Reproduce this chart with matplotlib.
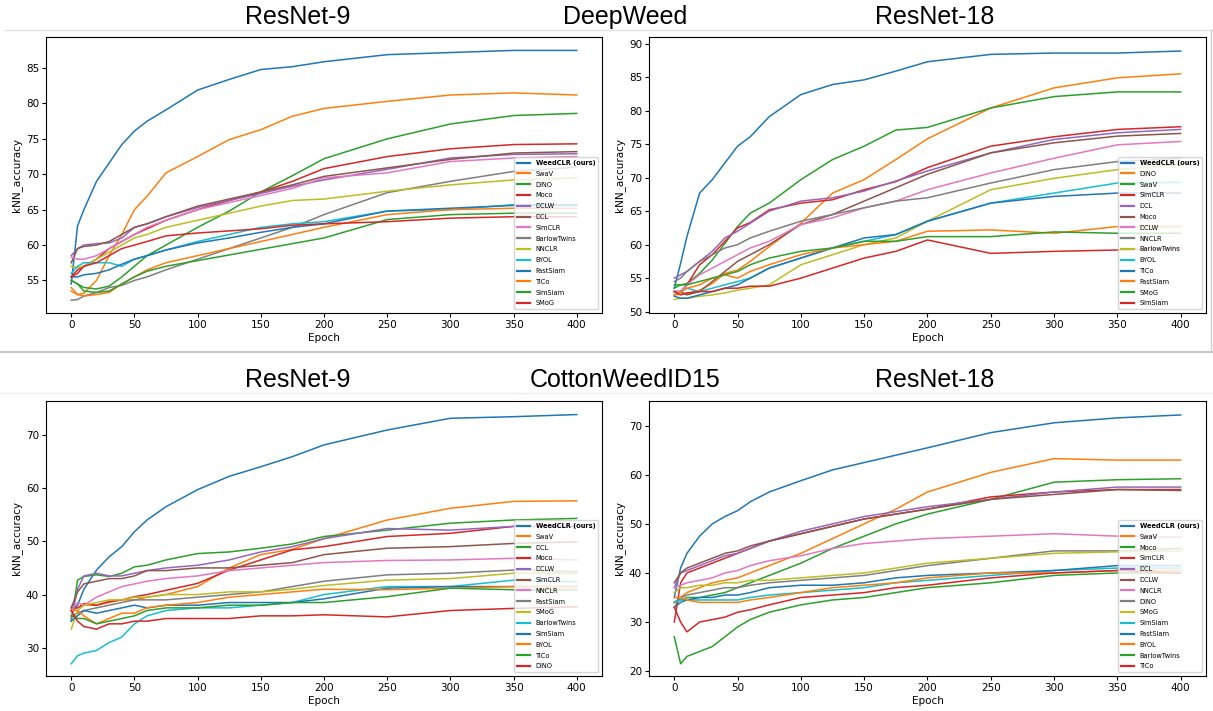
import matplotlib
matplotlib.use('Agg')
import matplotlib.pyplot as plt
from matplotlib.lines import Line2D

epochs = [0, 5, 10, 20, 30, 40, 50, 60, 75, 100, 125, 150, 175, 200, 250, 300, 350, 400]

# DeepWeed, ResNet-9
dw_r9_names = ['WeedCLR (ours)', 'SwaV', 'DINO', 'Moco', 'DCLW', 'DCL', 'SimCLR',
               'BarlowTwins', 'NNCLR', 'BYOL', 'FastSiam', 'TiCo', 'SimSiam', 'SMoG']
dw_r9_vals = [
    [54.5, 62.7, 65, 69, 71.6, 74.2, 76.1, 77.5, 79.1, 81.9, 83.4, 84.8, 85.2, 85.9, 86.9, 87.2, 87.5, 87.5],
    [53.5, 53, 53.2, 55, 58.5, 61.5, 65, 66.9, 70.2, 72.5, 74.9, 76.3, 78.2, 79.3, 80.3, 81.2, 81.5, 81.2],
    [55, 54.5, 54, 53.8, 54.2, 55.5, 57, 58.5, 60, 62.5, 64.8, 67.5, 69.8, 72.2, 75, 77.1, 78.3, 78.6],
    [55.5, 56.5, 57, 58, 59.5, 60.5, 61.5, 62.3, 63.5, 65, 66.3, 67.5, 69, 70.8, 72.5, 73.6, 74.2, 74.3],
    [58.5, 59.5, 60, 60.2, 60.3, 61, 62.5, 63, 64, 65.3, 66.3, 67.3, 68.3, 69.2, 70.7, 72.3, 72.8, 72.9],
    [57.5, 59.5, 59.8, 60, 60.5, 61.5, 62.5, 63, 64, 65.5, 66.5, 67.5, 68.5, 69.7, 70.9, 72.1, 73, 73.2],
    [58.3, 58, 58, 58.5, 59.5, 60.5, 61.5, 62.5, 63.5, 65, 66, 67, 68, 69.5, 70.2, 71.8, 72.3, 72.5],
    [52.2, 52.3, 52.8, 53.3, 54, 54.3, 55, 55.5, 56.5, 58, 59.5, 61, 62.5, 64.3, 67.4, 69, 70.4, 71],
    [57, 56.8, 57, 58, 59, 60, 61, 61.5, 62.5, 63.5, 64.5, 65.5, 66.3, 66.5, 67.6, 68.5, 69.2, 69.5],
    [56, 57, 57.5, 57.5, 57.5, 57, 58, 58.5, 59.3, 60.5, 61.5, 62.5, 63, 63.3, 64.8, 65, 65.7, 65.7],
    [55.5, 55.5, 55.8, 56, 56.5, 57.3, 58, 58.5, 59.3, 60.3, 61, 61.8, 62.5, 63, 64.8, 65.2, 65.6, 65.6],
    [54, 53, 52.8, 53, 53.3, 54.5, 55.5, 56.5, 57.5, 58.5, 59.5, 60.5, 61.5, 62.5, 64.3, 65, 65.2, 65.2],
    [55, 54.5, 53.5, 53.3, 53.5, 54.5, 55.5, 56.3, 57, 57.8, 58.6, 59.4, 60.2, 61, 63.6, 64.3, 64.5, 64.5],
    [55.5, 56, 57, 57.5, 58.5, 59.5, 60, 60.5, 61.3, 61.7, 62, 62.3, 62.8, 63, 63.3, 63.8, 64, 64],
]

# DeepWeed, ResNet-18
dw_r18_names = ['WeedCLR (ours)', 'DINO', 'SwaV', 'SimCLR', 'DCL', 'Moco', 'DCLW',
                'NNCLR', 'BarlowTwins', 'BYOL', 'TiCo', 'FastSiam', 'SMoG', 'SimSiam']
dw_r18_vals = [
    [53.5, 57.2, 61.2, 67.7, 69.7, 72.2, 74.7, 76.1, 79.1, 82.4, 83.9, 84.6, 85.9, 87.3, 88.4, 88.6, 88.6, 88.9],
    [52.5, 52.6, 52.7, 53.2, 54.2, 55.7, 56.2, 57.5, 59.7, 63.2, 67.7, 69.7, 72.7, 75.8, 80.4, 83.4, 84.9, 85.5],
    [54, 54, 54.2, 55.7, 57.7, 60.2, 62.7, 64.7, 66.2, 69.7, 72.7, 74.7, 77.1, 77.5, 80.4, 82.1, 82.8, 82.8],
    [53, 53, 54, 57, 58.5, 60.5, 62.5, 63.3, 65.2, 66.2, 66.7, 68.2, 69.4, 71.5, 74.7, 76.1, 77.2, 77.6],
    [55, 55.5, 56, 57.5, 59, 61, 62, 63.2, 65, 66.5, 67, 68, 69.5, 71, 73.7, 75.7, 76.7, 77.2],
    [53, 53, 52.5, 53, 54.5, 56, 57.5, 58.5, 60, 63, 64.5, 66.5, 68.5, 70.5, 73.7, 75.2, 76.2, 76.6],
    [53, 53, 54, 55.5, 56.5, 57.5, 58.5, 59.5, 60.5, 63, 64, 65.5, 66.5, 68.2, 70.7, 72.9, 74.9, 75.4],
    [54.5, 55, 56, 57.5, 58.5, 59.5, 60, 61, 62, 63.5, 64.5, 65.5, 66.5, 67, 69.2, 71.2, 72.4, 72.9],
    [51.8, 52, 52, 52.3, 52.5, 52.8, 53.2, 53.5, 54, 57, 58.5, 60, 61, 63.5, 68.2, 69.9, 71.2, 72],
    [52.5, 53, 53.5, 53, 53.5, 54, 54.5, 55, 56.5, 58, 59.5, 60.5, 61.5, 63.5, 66.2, 67.7, 69.2, 69.3],
    [52.3, 52, 52, 52.5, 53, 53.5, 54, 55, 56.5, 58, 59.5, 61, 61.5, 63.5, 66.2, 67.2, 67.7, 67.7],
    [52.5, 53, 53.5, 54, 55, 55.5, 55, 56, 57, 58.5, 59.5, 60, 60.5, 62, 62.2, 61.7, 62.7, 62.7],
    [53.5, 54, 54, 54.5, 55, 55.5, 56, 57, 58, 59, 59.5, 60.5, 60.5, 61.2, 61.2, 61.9, 61.7, 61.7],
    [53, 52.5, 52.8, 53, 53, 53.5, 53.5, 53.8, 53.8, 55, 56.5, 58, 59, 60.7, 58.7, 59, 59.2, 59.5],
]

# CottonWeedID15, ResNet-9
cw_r9_names = ['WeedCLR (ours)', 'SwaV', 'DCL', 'Moco', 'DCLW', 'SimCLR', 'NNCLR',
               'FastSiam', 'SMoG', 'BarlowTwins', 'SimSiam', 'BYOL', 'TiCo', 'DINO']
cw_r9_vals = [
    [37, 38, 41, 44.6, 47.1, 49, 51.8, 54, 56.5, 59.7, 62.2, 64, 65.9, 68.1, 70.9, 73.1, 73.4, 73.8],
    [37, 37.5, 38, 38, 38.5, 39, 39, 39.5, 40, 41.5, 45, 47.5, 48.5, 50.5, 54, 56.2, 57.5, 57.6],
    [35, 42.7, 43.4, 43.7, 43.4, 44, 45.2, 45.5, 46.5, 47.7, 48, 48.7, 49.5, 50.9, 52.1, 53.4, 54, 54.3],
    [37.5, 37.5, 38.3, 38, 38.7, 39, 39.6, 40, 40.8, 42.1, 44.6, 46.5, 48.4, 49, 50.9, 51.5, 52.8, 52.8],
    [35.5, 41, 43.5, 44, 43.5, 43.5, 44, 44.5, 45, 45.5, 46.5, 48, 49, 50.5, 52.4, 52.1, 52.8, 52.8],
    [37.5, 40.5, 42, 42.5, 43, 43, 43.5, 44.5, 44.5, 45, 45, 45.5, 46, 47.5, 48.7, 49, 49.6, 49.9],
    [37, 38.5, 38, 39.5, 40.5, 41.5, 42, 42.5, 43, 43.5, 44.5, 45, 45.5, 46, 46.4, 46.5, 46.8, 46.5],
    [36, 36.5, 37, 37.5, 38, 38.5, 39, 39, 39, 39.5, 40, 40.5, 41.5, 42.5, 43.7, 44, 44.6, 44.3],
    [33.5, 37, 38, 38.5, 39, 39, 39.5, 39.5, 40, 40, 40.5, 40.5, 41, 41.7, 42.7, 43, 44, 44],
    [27, 28.5, 29, 29.5, 31, 32, 34.5, 36, 37, 37.5, 37.5, 38, 38.5, 40, 41.5, 41.5, 42.7, 42.4],
    [35, 36, 37, 36.5, 37, 37.5, 38, 37.5, 38, 38, 38.5, 38.5, 38.5, 39.2, 41.2, 41.5, 41.5, 41.5],
    [37, 37, 36, 34.5, 35.5, 36.5, 36.5, 37.5, 38, 38.5, 39.5, 40, 40.5, 41, 40.9, 41.2, 41.5, 41.5],
    [36, 35.5, 35.5, 34.5, 35, 35.5, 36, 37, 37.5, 37.5, 38, 38, 38.5, 38.5, 39.6, 41.2, 40.9, 40.9],
    [37, 35, 34, 33.5, 34.5, 34.5, 35, 35, 35.5, 35.5, 35.5, 36, 36, 36.2, 35.8, 37, 37.4, 37.7],
]

# CottonWeedID15, ResNet-18
cw_r18_names = ['WeedCLR (ours)', 'SwaV', 'Moco', 'SimCLR', 'DCL', 'DCLW', 'NNCLR',
                'DINO', 'SMoG', 'SimSiam', 'FastSiam', 'BYOL', 'BarlowTwins', 'TiCo']
cw_r18_vals = [
    [35, 41, 44, 47.5, 50, 51.5, 52.7, 54.5, 56.5, 58.8, 61, 62.5, 64, 65.5, 68.6, 70.6, 71.6, 72.2],
    [33, 35, 36, 37, 38, 38.5, 39, 40, 41.5, 44, 47, 50, 53, 56.5, 60.5, 63.3, 63, 63],
    [34, 34.5, 35, 35, 35.5, 36, 37, 38, 39.5, 42, 45, 47.5, 50, 52, 55, 58.5, 59, 59.2],
    [30, 38, 40, 41, 42, 43, 44, 45, 46.5, 48, 49.5, 51, 52, 53, 55.5, 56.5, 57, 57],
    [37, 40, 40.5, 41.5, 42.5, 43.5, 44, 45, 46.5, 48.5, 50, 51.5, 52.5, 53.5, 55, 56.5, 57.5, 57.5],
    [38, 40, 41, 42, 43, 44, 44.5, 45.5, 46.5, 48, 49.5, 51, 52, 53, 55, 56, 57, 56.8],
    [37, 37.5, 38, 38.5, 39, 40, 40.5, 41.5, 42.5, 43.5, 45, 46, 46.5, 47, 47.5, 48, 47.5, 47.3],
    [34, 35, 35.5, 36, 36.5, 37, 37, 37.5, 38, 38.5, 39, 39.5, 40.5, 41.5, 43, 44.5, 44.5, 45],
    [36, 37, 37, 37.5, 37.5, 38, 38, 38.5, 38.5, 39, 39.5, 40, 41, 42, 43, 44, 44.3, 44.5],
    [34, 34.5, 34.5, 34.5, 34.5, 34.5, 34.5, 35, 35.5, 36, 36.5, 37, 38, 38.5, 39.5, 40.5, 41, 41],
    [33, 34, 34.5, 35, 35, 35.5, 35.5, 36, 37, 37.5, 37.5, 38, 39, 39.5, 40, 40.5, 41.5, 41.5],
    [35, 35, 34.5, 34, 34, 34, 34, 34.5, 35, 36, 37, 37.5, 38, 39, 40, 40, 40.5, 40.5],
    [27, 21.5, 23, 24, 25, 27, 29, 30.5, 32, 33.5, 34.5, 35, 36, 37, 38, 39.5, 40, 40],
    [33, 30, 28, 30, 30.5, 31, 32, 32.5, 33.5, 35, 35.5, 36, 37, 37.5, 39, 40, 40.5, 40],
]

row_titles = [('ResNet-9', 'DeepWeed', 'ResNet-18'),
              ('ResNet-9', 'CottonWeedID15', 'ResNet-18')]


def _panel(fig, rect, names, vals, ylim):
    '''One kNN accuracy panel'''
    ax = fig.add_axes(rect)
    for name, v in zip(names, vals):
        ax.plot(epochs, v, linewidth=1.1, label=name)
    ax.set_xlim(-20, 420)
    ax.set_ylim(*ylim)
    ax.set_xticks(range(0, 401, 50))
    ax.tick_params(labelsize=7.5, length=3, width=0.8, pad=2)
    ax.set_xlabel('Epoch', fontsize=7.5, labelpad=2)
    ax.set_ylabel('kNN_accuracy', fontsize=7.5, labelpad=3)
    leg = ax.legend(loc='lower right', fontsize=4.8, labelspacing=0.72,
                    borderaxespad=0.6)
    leg.get_texts()[0].set_fontweight('bold')
    for h in leg.get_lines():
        h.set_linewidth(1.6)
    return ax


fig = plt.figure(figsize=(12.13, 7.11), dpi=100)

_panel(fig, [0.0379, 0.5598, 0.4584, 0.3882], dw_r9_names, dw_r9_vals, (50.4, 89.4))
_panel(fig, [0.5350, 0.5598, 0.4592, 0.3882], dw_r18_names, dw_r18_vals, (49.8, 91.0))
_panel(fig, [0.0379, 0.0492, 0.4584, 0.3872], cw_r9_names, cw_r9_vals, (24.7, 76.4))
_panel(fig, [0.5350, 0.0492, 0.4592, 0.3872], cw_r18_names, cw_r18_vals, (19.0, 75.1))

title_font = ['Liberation Sans Narrow', 'Liberation Sans']
for yc, titles in zip([1 - 17 / 711, 1 - 380 / 711], row_titles):
    for xc, t in zip([298 / 1213, 625 / 1213, 935 / 1213], titles):
        fig.text(xc, yc, t, ha='center', va='center', fontsize=18, family=title_font)

# separators between the two blocks
sep = dict(transform=fig.transFigure, figure=fig)
fig.add_artist(Line2D([0.004, 1], [1 - 30 / 711] * 2, color='#e2e2e2', lw=1, **sep))
fig.add_artist(Line2D([0.0, 1], [1 - 352 / 711] * 2, color='#c4c4c4', lw=1.5, **sep))
fig.add_artist(Line2D([0.0, 1], [1 - 393 / 711] * 2, color='#eeeeee', lw=1, **sep))
fig.add_artist(Line2D([1 - 2 / 1213] * 2, [1 - 30 / 711, 1 - 352 / 711], color='#d0d0d0', lw=1, **sep))

fig.savefig('out.png', dpi=100)
